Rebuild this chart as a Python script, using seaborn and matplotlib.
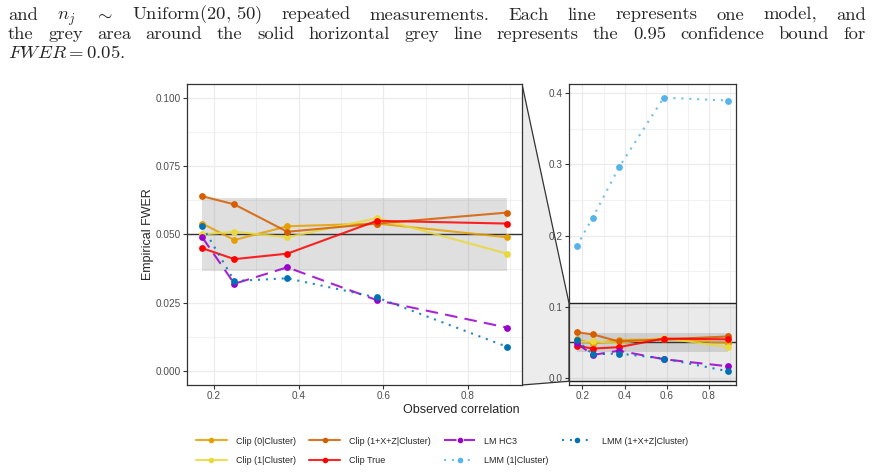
import numpy as np
import pandas as pd
import matplotlib
matplotlib.use("Agg")
import matplotlib.pyplot as plt
import seaborn as sns
from matplotlib.lines import Line2D
from matplotlib.patches import Polygon, Rectangle
from matplotlib.ticker import MultipleLocator, FixedLocator

sns.set_style("white")
plt.rcParams['font.family'] = ['Liberation Sans', 'DejaVu Sans']
plt.rcParams['mathtext.fontset'] = 'cm'

# observed correlation (x) and empirical FWER for each model
corr = [0.172, 0.248, 0.373, 0.585, 0.892]
clip_0 = [0.054, 0.048, 0.053, 0.054, 0.049]
clip_1 = [0.050, 0.051, 0.049, 0.056, 0.043]
clip_1xz = [0.064, 0.061, 0.051, 0.054, 0.058]
clip_true = [0.045, 0.041, 0.043, 0.055, 0.054]
lm_hc3 = [0.049, 0.032, 0.038, 0.026, 0.016]
lmm_1 = [0.185, 0.225, 0.296, 0.394, 0.390]
lmm_1xz = [0.053, 0.033, 0.034, 0.027, 0.009]

models = ["Clip (0|Cluster)", "Clip (1|Cluster)", "Clip (1+X+Z|Cluster)", "Clip True",
          "LM HC3", "LMM (1|Cluster)", "LMM (1+X+Z|Cluster)"]
series = [clip_0, clip_1, clip_1xz, clip_true, lm_hc3, lmm_1, lmm_1xz]
colors = ["#E69F00", "#EAD83C", "#D55E00", "#FF0000", "#9900CC", "#56B4E9", "#0072B2"]
styles = ["-", "-", "-", "-", (0, (6, 3.5)), (0, (1, 2.8)), (0, (1, 2.8))]

fwer_target = 0.05
band_lo, band_hi = 0.0365, 0.0635
zoom_ylim = (0.0, 0.1)

df = pd.DataFrame({
    "model": np.repeat(models, len(corr)),
    "corr": corr * len(models),
    "fwer": np.concatenate(series),
})

caption = [
    ["and", r"$n_j$", r"$\sim$", r"Uniform$(20,\,50)$", "repeated", "measurements.", "Each",
     "line", "represents", "one", "model,", "and"],
    "the grey area around the solid horizontal grey line represents the 0.95 confidence bound for".split(),
    [r"$FWER = 0.05$."],
]

W, H = 876, 473
fig = plt.figure(figsize=(W / 100, H / 100), dpi=100)
ax = fig.add_axes([187 / W, 88 / H, 335 / W, 301 / H])
az = fig.add_axes([569 / W, 88 / H, 167 / W, 301 / H])

# caption text, justified like the paper
renderer = fig.canvas.get_renderer()
line_w = 858
probe = [fig.text(0, 0, w, fontsize=12, family='cmr10') for w in caption[1]]
s12 = sum(t.get_window_extent(renderer).width for t in probe)
for t in probe:
    t.remove()
space12 = 0.333 * 12 * 100 / 72
fs = 0.87 * 12 * line_w / (s12 + (len(caption[1]) - 1) * space12)
baselines = [19.5, 39, 58]
for i, words in enumerate(caption):
    txts = [fig.text(0, 1 - baselines[i] / H, w, fontsize=fs, family='cmr10',
                     va='baseline', ha='left') for w in words]
    widths = [t.get_window_extent(renderer).width for t in txts]
    if i < len(caption) - 1:
        gap = (line_w - sum(widths)) / (len(words) - 1)
    else:
        gap = fs * 0.333 * 100 / 72
    x = 8
    for t, wd in zip(txts, widths):
        t.set_x(x / W)
        x += wd + gap

xr = max(corr) - min(corr)
xlim = (min(corr) - 0.05 * xr, max(corr) + 0.05 * xr)
allv = df["fwer"]
zr = allv.max() - allv.min()
zlim = (allv.min() - 0.05 * zr, allv.max() + 0.05 * zr)
mr = zoom_ylim[1] - zoom_ylim[0]
mlim = (zoom_ylim[0] - 0.05 * mr, zoom_ylim[1] + 0.05 * mr)

for a in (ax, az):
    a.set_facecolor("white")
    a.set_xlim(xlim)
    a.xaxis.set_major_locator(FixedLocator([0.2, 0.4, 0.6, 0.8]))
    a.xaxis.set_minor_locator(FixedLocator([0.3, 0.5, 0.7, 0.9]))
    a.grid(True, which="major", color="#ebebeb", lw=0.9)
    a.grid(True, which="minor", color="#ebebeb", lw=0.5)
    a.set_axisbelow(True)
    for s in a.spines.values():
        s.set_color("#333333")
        s.set_linewidth(0.9)
    a.tick_params(which="major", length=3, width=0.8, color="#333333",
                  labelcolor="#4d4d4d", labelsize=7.2, pad=1.5, direction="out",
                  left=True, bottom=True)
    a.tick_params(which="minor", length=0)
    a.fill_between(corr, band_lo, band_hi, color="#808080", alpha=0.25, lw=0, zorder=1.5)
    a.axhline(fwer_target, color="#333333", lw=1.0, zorder=1.6)

ax.set_ylim(mlim)
ax.yaxis.set_major_locator(MultipleLocator(0.025))
ax.yaxis.set_minor_locator(MultipleLocator(0.0125))
ax.set_yticklabels([f"{v:.3f}" for v in ax.get_yticks()])

az.set_ylim(zlim)
az.yaxis.set_major_locator(MultipleLocator(0.1))
az.yaxis.set_minor_locator(MultipleLocator(0.05))
az.set_yticklabels([f"{v:.1f}" for v in az.get_yticks()])

# zoom region highlighted on the right panel
az.add_patch(Rectangle((xlim[0], mlim[0]), xlim[1] - xlim[0], mlim[1] - mlim[0],
                       facecolor="#808080", alpha=0.16, lw=0, zorder=1.2))
for yv in mlim:
    az.axhline(yv, color="#222222", lw=1.0, zorder=1.3)

handles = []
for m, c, ls in zip(models, colors, styles):
    sub = df[df["model"] == m]
    for a in (ax, az):
        sns.lineplot(data=sub, x="corr", y="fwer", color=c, linestyle=ls, lw=1.5,
                     alpha=0.85, ax=a, legend=False, zorder=3)
        sns.scatterplot(data=sub, x="corr", y="fwer", color=c, s=24, linewidth=0,
                        ax=a, legend=False, zorder=4)
    handles.append((Line2D([], [], color=c, ls=ls, lw=1.5, alpha=0.85),
                    Line2D([], [], color=c, marker="o", ls="none", ms=4, mew=0)))

for a in (ax, az):
    a.set_xlabel("")
    a.set_ylabel("")

# connector between the panels, kept behind both axes
inv = fig.transFigure.inverted()
p1 = inv.transform(ax.transAxes.transform((1, 1)))
p2 = inv.transform(az.transData.transform((xlim[0], mlim[1])))
p3 = inv.transform(az.transData.transform((xlim[0], mlim[0])))
p4 = inv.transform(ax.transAxes.transform((1, 0)))
fig.patches.append(Polygon([p1, p2, p3, p4], closed=True, transform=fig.transFigure,
                           facecolor="#ececec", edgecolor="#333333", lw=0.9, zorder=-1))

fig.text(148 / W, 1 - 234.5 / H, "Empirical FWER", rotation=90, ha="center",
         va="center", fontsize=9)
fig.text(461.5 / W, 1 - 413 / H, "Observed correlation", ha="center",
         va="baseline", fontsize=9)

fig.legend(handles, models, ncol=4, loc="center", bbox_to_anchor=(442 / W, 1 - 451 / H),
           frameon=False, fontsize=6.5, handlelength=3.4, handletextpad=1.0,
           columnspacing=1.5, labelspacing=1.2)

fig.savefig("out.png", dpi=100)
